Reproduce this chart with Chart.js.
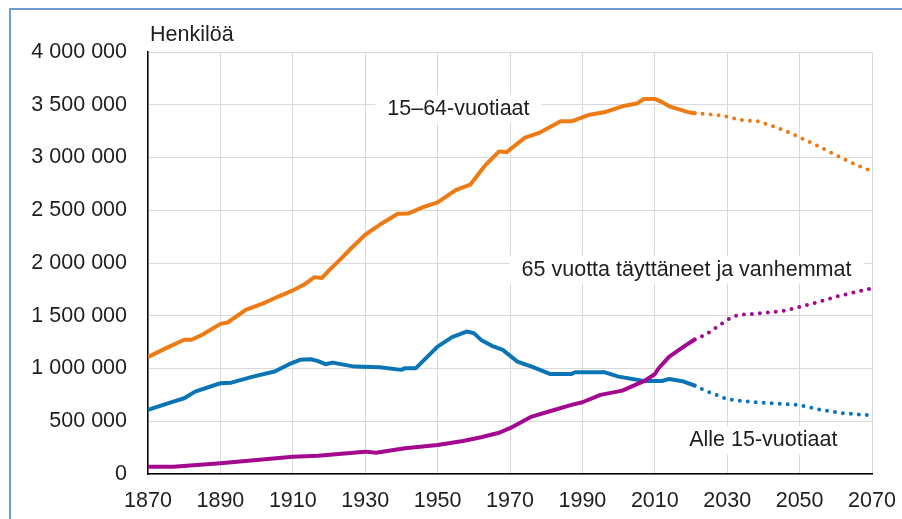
<!DOCTYPE html>
<html>
<head>
<meta charset="utf-8">
<script src="https://cdn.jsdelivr.net/npm/chart.js@4"></script>
<style>
  html, body { margin: 0; padding: 0; background: #fff; }
  #wrap { position: relative; width: 902px; height: 519px; }
  canvas { display: block; }
</style>
</head>
<body>
<div id="wrap"><canvas id="c" width="902" height="519"></canvas></div>
<script>
// ---- Data ----
const workYears = [1870,1875,1880,1882,1885,1890,1892,1897,1902,1906,1910,1913,1916,1918,1920,1923,1926,1930,1934,1939,1942,1946,1950,1955,1959,1963,1967,1969,1974,1978,1984,1987,1992,1996,2001,2005,2007,2010,2012,2014,2019,2021];
const workValues = [1110000,1193000,1272000,1272000,1320000,1423000,1436000,1556000,1620000,1682000,1740000,1793000,1866000,1857000,1930000,2030000,2135000,2268000,2362000,2467000,2470000,2530000,2575000,2690000,2742000,2920000,3058000,3049000,3185000,3233000,3343000,3343000,3406000,3428000,3485000,3511000,3555000,3555000,3525000,3485000,3432000,3420000];
const workProjYears = [2021,2025,2029,2031,2035,2038,2042,2046,2050,2054,2058,2062,2066,2070];
const workProjValues = [3420000,3410000,3397000,3375000,3349000,3349000,3305000,3254000,3191000,3128000,3058000,2989000,2925000,2870000];

const childYears = [1870,1877,1880,1883,1890,1893,1899,1905,1909,1912,1915,1917,1919,1921,1927,1934,1940,1941,1944,1950,1954,1958,1960,1962,1965,1968,1972,1976,1981,1987,1988,1996,2000,2007,2012,2014,2018,2021];
const childValues = [607000,686000,718000,781000,860000,866000,923000,971000,1041000,1082000,1088000,1070000,1041000,1056000,1018000,1012000,987000,1003000,1003000,1208000,1297000,1350000,1335000,1271000,1215000,1177000,1066000,1018000,949000,949000,965000,965000,923000,882000,882000,901000,876000,838000];
const childProjYears = [2021,2024,2030,2033,2039,2046,2050,2056,2062,2070];
const childProjValues = [838000,790000,709000,695000,677000,664000,652000,607000,576000,555000];

const oldYears = [1870,1877,1890,1900,1910,1917,1930,1933,1941,1950,1957,1962,1967,1970,1976,1981,1987,1990,1995,2001,2007,2010,2011,2014,2018,2021];
const oldValues = [69000,69000,101000,133000,164000,174000,212000,202000,244000,275000,313000,348000,391000,434000,544000,595000,655000,680000,750000,790000,880000,945000,1000000,1113000,1208000,1275000];
const oldProjYears = [2021,2024,2030,2033,2040,2046,2054,2061,2070];
const oldProjValues = [1275000,1319000,1461000,1509000,1525000,1549000,1620000,1689000,1760000];

const yTitle = 'Henkilöä';
const seriesLabels = ['15–64-vuotiaat', '65 vuotta täyttäneet ja vanhemmat', 'Alle 15-vuotiaat'];

// ---- Styles ----
const ORANGE = '#EE7A14';
const BLUE = '#0A74B4';
const MAGENTA = '#A4088F';
const TEXT = '#1e1e1e';
const FONT = "'Liberation Sans', Arial, sans-serif";
const FS = 21.5;

Chart.defaults.font.family = FONT;
Chart.defaults.font.size = FS;
Chart.defaults.color = TEXT;

const pts = (xs, ys) => xs.map((x, i) => ({ x: x, y: ys[i] }));
const solid = (data, color) => ({ data, borderColor: color, borderWidth: 4, pointRadius: 0, tension: 0, fill: false, borderCapStyle: 'round', borderJoinStyle: 'round' });
const dotted = (data, color) => ({ data, borderColor: color, borderWidth: 4, pointRadius: 0, tension: 0, fill: false, borderCapStyle: 'round', borderDash: [0, 8] });

const fmt = v => String(Math.round(v)).replace(/\B(?=(\d{3})+(?!\d))/g, ' ');

// Labels placed in data coordinates: [text, leftYear, baselineValue]
const annotations = [
  [seriesLabels[0], 1936.1, 3403000],
  [seriesLabels[1], 1973.2, 1879000],
  [seriesLabels[2], 2019.5, 263000]
];

const decor = {
  id: 'decor',
  beforeDraw(chart) {
    const ctx = chart.ctx;
    ctx.save();
    ctx.fillStyle = '#fff';
    ctx.fillRect(0, 0, chart.width, chart.height);
    ctx.strokeStyle = '#6F9BD3';
    ctx.lineWidth = 2;
    ctx.beginPath();
    ctx.moveTo(10, 519);
    ctx.lineTo(10, 9);
    ctx.lineTo(902, 9);
    ctx.stroke();
    ctx.restore();
  },
  beforeDatasetsDraw(chart) {
    const ctx = chart.ctx;
    const xs = chart.scales.x, ys = chart.scales.y;
    ctx.save();
    ctx.font = FS + 'px ' + FONT;
    ctx.textBaseline = 'alphabetic';
    ctx.textAlign = 'left';
    annotations.forEach(([t, yr, val]) => {
      const x = xs.getPixelForValue(yr);
      const y = ys.getPixelForValue(val);
      const w = ctx.measureText(t).width;
      ctx.fillStyle = '#fff';
      ctx.fillRect(x - 12, y - 20, w + 24, 28);
      ctx.fillStyle = TEXT;
      ctx.fillText(t, x, y);
    });
    ctx.fillText(yTitle, chart.chartArea.left + 2, 41);
    ctx.restore();
  }
};

new Chart(document.getElementById('c'), {
  type: 'line',
  data: {
    datasets: [
      solid(pts(oldYears, oldValues), MAGENTA),
      dotted(pts(oldProjYears, oldProjValues), MAGENTA),
      solid(pts(workYears, workValues), ORANGE),
      dotted(pts(workProjYears, workProjValues), ORANGE),
      solid(pts(childYears, childValues), BLUE),
      dotted(pts(childProjYears, childProjValues), BLUE)
    ]
  },
  options: {
    responsive: false,
    animation: false,
    devicePixelRatio: 1,
    layout: { padding: { left: 0, right: 30, top: 52, bottom: 0 } },
    plugins: { legend: { display: false }, tooltip: { enabled: false } },
    scales: {
      x: {
        type: 'linear', min: 1870, max: 2070,
        ticks: { stepSize: 20, padding: 14, color: TEXT, callback: v => String(v), maxRotation: 0, autoSkip: false },
        grid: { color: '#D9D9D9', lineWidth: 1, drawTicks: false },
        border: { color: '#000', width: 1.5 },
        afterFit: s => { s.height = 45; s.paddingLeft = 0; s.paddingRight = 0; }
      },
      y: {
        min: 0, max: 4000000,
        ticks: { stepSize: 500000, padding: 21, color: TEXT, callback: v => fmt(v) },
        grid: { color: '#D9D9D9', lineWidth: 1, drawTicks: false },
        border: { color: '#000', width: 1.5 },
        afterFit: s => { s.width = 148; s.paddingTop = 0; s.paddingBottom = 0; }
      }
    }
  },
  plugins: [decor]
});
</script>
</body>
</html>
